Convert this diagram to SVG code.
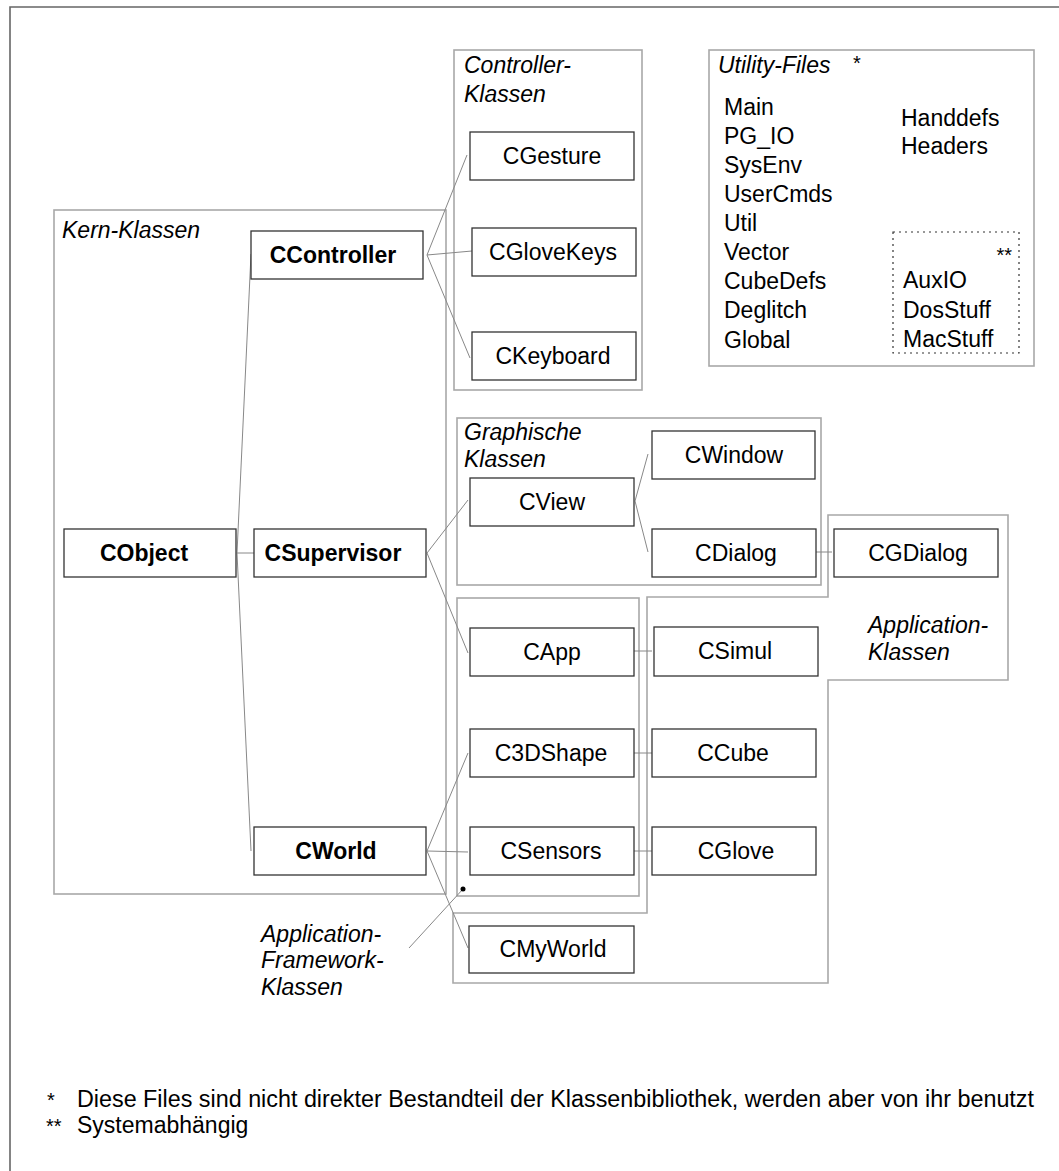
<svg xmlns="http://www.w3.org/2000/svg" width="1059" height="1171" viewBox="0 0 1059 1171">
<style>
text{font-family:"Liberation Sans",Arial,Helvetica,sans-serif;font-size:23px;fill:#000}
.b{font-weight:bold}
.i{font-style:italic}
.m{text-anchor:middle}
.node rect{fill:#fff;stroke:#333;stroke-width:1.3}
.grp{fill:none;stroke:#a8a8a8;stroke-width:1.6}
.frame{fill:none;stroke:#666;stroke-width:1.6}
#connectors line{stroke:#888;stroke-width:1}
</style>
<rect width="1059" height="1171" fill="#fff"/>
<path class="frame" d="M10,1171 V7 H1059"/>

<g id="groups">
  <g id="kern"><rect class="grp" x="54" y="210" width="392" height="684"/><text class="i" x="62" y="238">Kern-Klassen</text></g>
  <g id="controller-klassen"><rect class="grp" x="454" y="50" width="188" height="340"/><text class="i" x="464" y="73">Controller-</text><text class="i" x="464" y="102">Klassen</text></g>
  <g id="utility-files"><rect class="grp" x="709" y="50" width="325" height="316"/>
    <text class="i" x="718" y="73">Utility-Files</text><text x="853" y="70" style="font-size:20px">*</text>
    <text x="724" y="115">Main</text><text x="724" y="144">PG_IO</text><text x="724" y="173">SysEnv</text><text x="724" y="202">UserCmds</text><text x="724" y="231">Util</text><text x="724" y="260">Vector</text><text x="724" y="289">CubeDefs</text><text x="724" y="318">Deglitch</text><text x="724" y="348">Global</text>
    <text x="901" y="126">Handdefs</text><text x="901" y="154">Headers</text>
    <rect x="893" y="232" width="126" height="121" fill="none" stroke="#333" stroke-width="1.2" stroke-dasharray="2,4"/>
    <text x="1012" y="262" text-anchor="end" style="font-size:20px">**</text>
    <text x="903" y="288">AuxIO</text><text x="903" y="318">DosStuff</text><text x="903" y="347">MacStuff</text>
  </g>
  <g id="graphische"><rect class="grp" x="457" y="418" width="364" height="167"/><text class="i" x="464" y="440">Graphische</text><text class="i" x="464" y="467">Klassen</text></g>
  <g id="framework"><rect class="grp" x="457" y="598" width="182" height="298"/>
    <text class="i" x="261" y="942">Application-</text><text class="i" x="261" y="968">Framework-</text><text class="i" x="261" y="995">Klassen</text></g>
  <g id="application"><path class="grp" d="M828,515 H1008 V680 H828 V983 H453 V913 H647 V597 H828 Z"/>
    <text class="i" x="868" y="633">Application-</text><text class="i" x="868" y="660">Klassen</text></g>
</g>

<g id="connectors">
  <line x1="237" y1="553" x2="251" y2="254"/>
  <line x1="237" y1="553" x2="251" y2="851"/>
  <line x1="237" y1="553" x2="254" y2="553"/>
  <line x1="427" y1="255" x2="467" y2="155"/>
  <line x1="427" y1="255" x2="472" y2="251"/>
  <line x1="427" y1="255" x2="470" y2="358"/>
  <line x1="427" y1="553" x2="468" y2="500"/>
  <line x1="427" y1="553" x2="468" y2="653"/>
  <line x1="427" y1="851" x2="468" y2="753"/>
  <line x1="427" y1="851" x2="468" y2="852"/>
  <line x1="427" y1="851" x2="468" y2="948"/>
  <line x1="635" y1="501" x2="648" y2="454"/>
  <line x1="635" y1="501" x2="648" y2="552"/>
  <line x1="816" y1="552" x2="832" y2="552"/>
  <line x1="634" y1="651" x2="652" y2="651"/>
  <line x1="634" y1="753" x2="652" y2="753"/>
  <line x1="634" y1="851" x2="652" y2="851"/>
  <line x1="463" y1="889" x2="409" y2="948"/>
  <circle cx="463" cy="889" r="2.5" fill="#000"/>
</g>

<g id="CObject" class="node"><rect x="64" y="529" width="172" height="48"/><text class="b m" x="144" y="561">CObject</text></g>
<g id="CSupervisor" class="node"><rect x="254" y="529" width="172" height="48"/><text class="b m" x="333" y="561">CSupervisor</text></g>
<g id="CController" class="node"><rect x="251" y="231" width="172" height="48"/><text class="b m" x="333" y="263">CController</text></g>
<g id="CWorld" class="node"><rect x="254" y="827" width="172" height="48"/><text class="b m" x="336" y="859">CWorld</text></g>
<g id="CGesture" class="node"><rect x="470" y="132" width="164" height="48"/><text class="m" x="552" y="164">CGesture</text></g>
<g id="CGloveKeys" class="node"><rect x="472" y="228" width="164" height="48"/><text class="m" x="553" y="260">CGloveKeys</text></g>
<g id="CKeyboard" class="node"><rect x="472" y="332" width="164" height="48"/><text class="m" x="553" y="364">CKeyboard</text></g>
<g id="CView" class="node"><rect x="470" y="478" width="164" height="48"/><text class="m" x="552" y="510">CView</text></g>
<g id="CWindow" class="node"><rect x="652" y="431" width="163" height="48"/><text class="m" x="734" y="463">CWindow</text></g>
<g id="CDialog" class="node"><rect x="652" y="529" width="164" height="48"/><text class="m" x="736" y="561">CDialog</text></g>
<g id="CGDialog" class="node"><rect x="834" y="529" width="164" height="48"/><text class="m" x="918" y="561">CGDialog</text></g>
<g id="CApp" class="node"><rect x="470" y="628" width="164" height="48"/><text class="m" x="552" y="660">CApp</text></g>
<g id="CSimul" class="node"><rect x="654" y="627" width="164" height="49"/><text class="m" x="735" y="659">CSimul</text></g>
<g id="C3DShape" class="node"><rect x="470" y="729" width="164" height="48"/><text class="m" x="551" y="761">C3DShape</text></g>
<g id="CCube" class="node"><rect x="652" y="729" width="164" height="48"/><text class="m" x="733" y="761">CCube</text></g>
<g id="CSensors" class="node"><rect x="470" y="827" width="164" height="48"/><text class="m" x="551" y="859">CSensors</text></g>
<g id="CGlove" class="node"><rect x="652" y="827" width="164" height="48"/><text class="m" x="736" y="859">CGlove</text></g>
<g id="CMyWorld" class="node"><rect x="469" y="926" width="165" height="47"/><text class="m" x="553" y="957">CMyWorld</text></g>

<g id="footnotes">
  <text x="47" y="1107" style="font-size:20px">*</text>
  <text x="77" y="1107" textLength="957" lengthAdjust="spacingAndGlyphs">Diese Files sind nicht direkter Bestandteil der Klassenbibliothek, werden aber von ihr benutzt</text>
  <text x="46" y="1133" style="font-size:20px">**</text>
  <text x="77" y="1133">Systemabhängig</text>
</g>
</svg>
